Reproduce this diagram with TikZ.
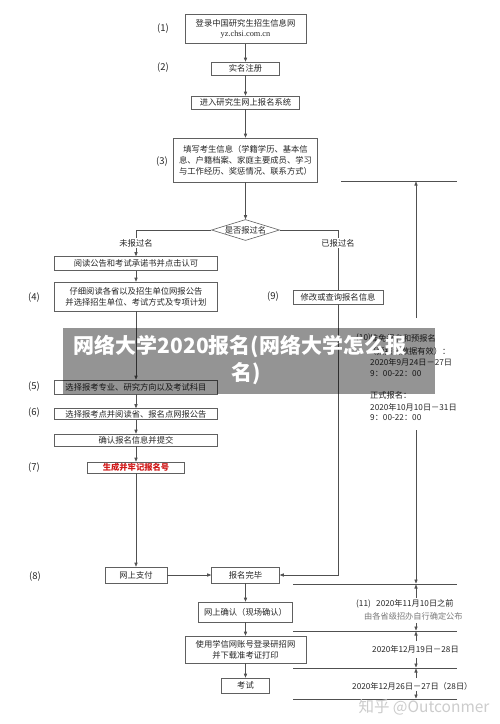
\documentclass[tikz,border=0pt]{standalone}
\usepackage{fontspec}
\setmainfont{Noto Sans CJK SC}
\newfontfamily\urlfont{Liberation Serif}
\usetikzlibrary{shapes.geometric,arrows.meta}
\definecolor{ln}{HTML}{505050}
\definecolor{bd}{HTML}{606060}
\definecolor{redtxt}{HTML}{D01818}
\definecolor{graytxt}{HTML}{7A7A7A}
\definecolor{txt}{HTML}{262626}
\begin{document}
\begin{tikzpicture}[x=1pt,y=-1pt,
  box/.style={draw=bd, line width=0.6pt, fill=white, inner sep=0pt, align=center,
              font=\fontsize{8.3}{11}\selectfont, text=txt},
  arr/.style={draw=ln, line width=0.6pt, -{Triangle[length=4pt,width=3.2pt]}},
  plain/.style={draw=ln, line width=0.6pt},
  num/.style={font=\fontsize{9.5}{10}\selectfont, text=txt, inner sep=0pt},
  tl/.style={font=\fontsize{8.2}{10}\selectfont, text=txt, inner sep=0pt, anchor=west},
  brlab/.style={font=\fontsize{8.3}{10}\selectfont, text=txt, fill=white, inner sep=1pt}]
\fill[white] (0,0) rectangle (500,724);
\useasboundingbox (0,0) rectangle (500,724);

% main column
\node[box, minimum width=121pt, minimum height=29pt] (b1) at (245.5,29) {登录中国研究生招生信息网\\[-1pt]{\urlfont yz.chsi.com.cn}};
\node[box, minimum width=68pt, minimum height=13pt] (b2) at (245.5,68.5) {实名注册};
\node[box, minimum width=108pt, minimum height=13pt] (b3) at (245.5,102.5) {进入研究生网上报名系统};
\node[box, minimum width=144pt, minimum height=44pt] (b4) at (245.5,160) {填写考生信息（学籍学历、基本信\\息、户籍档案、家庭主要成员、学习\\与工作经历、奖惩情况、联系方式）};
\node[diamond, draw=bd, line width=0.6pt, fill=white, inner sep=0pt, aspect=3.2,
      minimum width=68pt, minimum height=21pt, font=\fontsize{8.3}{10}\selectfont, text=txt] (d) at (245.5,230) {是否报过名};

\node[num] (n1) at (163,29) {(1)};
\node[num] (n2) at (163,68) {(2)};
\node[num] (n3) at (162,162) {(3)};

% left column
\node[box, minimum width=163pt, minimum height=14pt] (L1) at (136,263.5) {阅读公告和考试承诺书并点击认可};
\node[box, minimum width=163pt, minimum height=29pt] (L2) at (136,296.5) {仔细阅读各省以及招生单位网报公告\\并选择招生单位、考试方式及专项计划};
\node[box, minimum width=163pt, minimum height=14pt] (L3) at (136,387) {选择报考专业、研究方向以及考试科目};
\node[box, minimum width=163pt, minimum height=11pt] (L4) at (136,414) {选择报考点并阅读省、报名点网报公告};
\node[box, minimum width=163pt, minimum height=12pt] (L5) at (136,440) {确认报名信息并提交};
\node[box, minimum width=97pt, minimum height=11pt, text=redtxt, font=\fontsize{8.3}{10}\selectfont\bfseries] (L6) at (136,467.5) {生成并牢记报名号};
\node[box, minimum width=62pt, minimum height=16pt] (pay) at (136,575) {网上支付};

\node[num] (n4) at (34,298) {(4)};
\node[num] (n5) at (34,387) {(5)};
\node[num] (n6) at (34,413) {(6)};
\node[num] (n7) at (34,468) {(7)};
\node[num] (n8) at (35,577) {(8)};

% lower main column
\node[box, minimum width=68pt, minimum height=16pt] (done) at (245.5,575) {报名完毕};
\node[box, minimum width=94pt, minimum height=20pt] (conf) at (245.5,612) {网上确认（现场确认）};
\node[box, minimum width=121pt, minimum height=27pt] (dl) at (245.5,649.5) {使用学信网账号登录研招网\\并下载准考证打印};
\node[box, minimum width=48pt, minimum height=15pt] (exam) at (245.5,685.5) {考试};

% right branch
\node[box, minimum width=90pt, minimum height=14pt] (b9) at (338,297) {修改或查询报名信息};
\node[num] (n9) at (273,297) {(9)};

% connectors
\draw[arr] (b1) -- (b2);
\draw[arr] (b2) -- (b3);
\draw[arr] (b3) -- (b4);
\draw[arr] (b4) -- (d);
\draw[arr] (d.west) -| (L1.north);
\node[brlab] (lno) at (136,243) {未报过名};
\draw[plain] (d.east) -| (b9.north);
\draw[arr] (b9.south) |- (done.east);
\node[brlab] (lyes) at (338,243) {已报过名};
\draw[arr] (L1) -- (L2);
\draw[arr] (L2) -- (L3);
\draw[arr] (L3) -- (L4);
\draw[arr] (L4) -- (L5);
\draw[arr] (L5) -- (L6);
\draw[arr] (L6) -- (pay);
\draw[arr] (pay) -- (done);
\draw[arr] (done) -- (conf);
\draw[arr] (conf) -- (dl);
\draw[arr] (dl) -- (exam);

% timeline
\coordinate (h0a) at (341,181); \coordinate (h0b) at (457,181);
\coordinate (h1a) at (293,584); \coordinate (h1b) at (457,584);
\coordinate (h2a) at (293,631); \coordinate (h2b) at (457,631);
\coordinate (h3a) at (293,668); \coordinate (h3b) at (457,668);
\coordinate (h4a) at (293,699); \coordinate (h4b) at (457,699);
\foreach \i in {0,1,2,3,4} {\draw[plain] (h\i a) -- (h\i b);}
\coordinate (v0) at (416,181.5);
\coordinate (v1) at (416,318);
\coordinate (v2) at (416,430);
\coordinate (v3) at (416,583.5);
\draw[arr] (v1) -- (v0);
\draw[arr] (v2) -- (v3);
\coordinate (a1s) at (416,598); \coordinate (a1e) at (416,584.5);
\coordinate (a2s) at (416,623); \coordinate (a2e) at (416,630.5);
\coordinate (a3s) at (416,641); \coordinate (a3e) at (416,631.5);
\coordinate (a4s) at (416,658); \coordinate (a4e) at (416,667.5);
\coordinate (a5s) at (416,678); \coordinate (a5e) at (416,668.5);
\coordinate (a6s) at (416,691); \coordinate (a6e) at (416,698.5);
\draw[arr] (a1s) -- (a1e);
\draw[arr] (a2s) -- (a2e);
\draw[arr] (a3s) -- (a3e);
\draw[arr] (a4s) -- (a4e);
\draw[arr] (a5s) -- (a5e);
\draw[arr] (a6s) -- (a6e);

% (10) block
\node[tl] (n10) at (356,338) {(10)};
\node[tl] (t10a) at (370,338) {推免报名和预报名};
\node[tl] (t10b) at (368,351) {（预报名数据有效）：};
\node[tl] (t10c) at (370,362) {2020年9月24日－27日};
\node[tl] (t10d) at (370,374) {9：00-22：00};
\node[tl] (t10e) at (370,395) {正式报名：};
\node[tl] (t10f) at (370,407) {2020年10月10日－31日};
\node[tl] (t10g) at (370,418) {9：00-22：00};

% (11) block
\node[tl] (n11) at (356,604) {(11)};
\node[tl] (t11a) at (376,603) {2020年11月10日之前};
\node[tl, text=graytxt] (t11b) at (364,616) {由各省级招办自行确定公布};
\node[tl] (t12) at (372,649) {2020年12月19日－28日};
\node[tl] (t13) at (352,686) {2020年12月26日－27日（28日）};

% watermark
\node[text=black!20, font=\fontsize{15.5}{17}\selectfont, inner sep=0pt] (wm) at (424,707) {知乎 @Outconmer};

% title banner
\fill[black, opacity=0.42] (63,328) rectangle (435,394);
\node[text=white, font=\fontsize{21}{24}\selectfont\bfseries, inner sep=0pt] (ttl1) at (240,347) {网络大学2020报名(网络大学怎么报};
\node[text=white, font=\fontsize{21}{24}\selectfont\bfseries, inner sep=0pt] (ttl2) at (246,374) {名)};
\end{tikzpicture}
\end{document}
